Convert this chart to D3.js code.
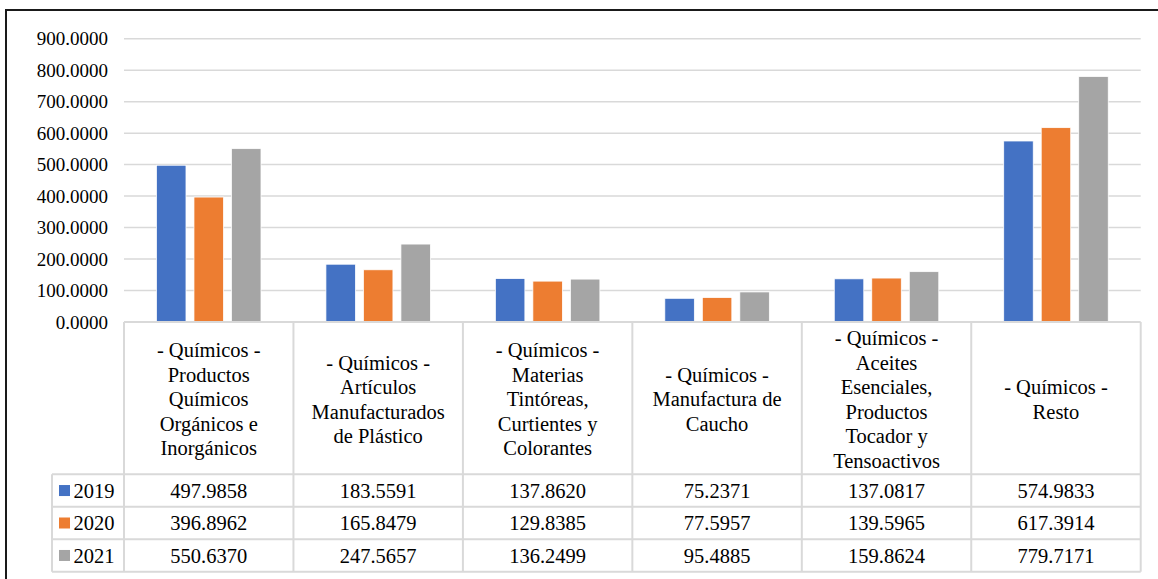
<!DOCTYPE html>
<html><head><meta charset="utf-8">
<script src="https://cdn.jsdelivr.net/npm/d3@7"></script>
<style>
html,body{margin:0;padding:0;background:#fff;}
svg{display:block;}
svg text{font-family:'Liberation Serif','Times New Roman',Times,'Tinos','DejaVu Serif',serif !important;}
</style></head>
<body><svg id="c" width="1158" height="579"></svg>
<script>
const categories = [
  "- Químicos -\nProductos\nQuímicos\nOrgánicos e\nInorgánicos",
  "- Químicos -\nArtículos\nManufacturados\nde Plástico",
  "- Químicos -\nMaterias\nTintóreas,\nCurtientes y\nColorantes",
  "- Químicos -\nManufactura de\nCaucho",
  "- Químicos -\nAceites\nEsenciales,\nProductos\nTocador y\nTensoactivos",
  "- Químicos -\nResto"
];
const years = ["2019", "2020", "2021"];
const values2019 = [497.9858, 183.5591, 137.8620, 75.2371, 137.0817, 574.9833];
const values2020 = [396.8962, 165.8479, 129.8385, 77.5957, 139.5965, 617.3914];
const values2021 = [550.6370, 247.5657, 136.2499, 95.4885, 159.8624, 779.7171];
const yTicks = [0, 100, 200, 300, 400, 500, 600, 700, 800, 900];
const colors = ["#4472C4", "#ED7D31", "#A5A5A5"];

const series = [values2019, values2020, values2021];
const svg = d3.select("#c");
const FF = "'Liberation Serif','Times New Roman',Times,'DejaVu Serif',serif";

// outer border
svg.append("line").attr("x1",6).attr("x2",1158).attr("y1",10).attr("y2",10).attr("stroke","#1a1a1a").attr("stroke-width",2);
svg.append("line").attr("x1",6).attr("x2",6).attr("y1",9).attr("y2",579).attr("stroke","#1a1a1a").attr("stroke-width",2);

const x0 = 124, x1 = 1140.7;
const y = d3.scaleLinear().domain([0, 900]).range([322, 38.7]);
const x = d3.scaleBand().domain(d3.range(categories.length)).range([x0, x1]);
const xs = d3.scaleBand().domain(years).range([-56.25, 56.25]).paddingInner(0.2133).paddingOuter(0.10665);

// gridlines
svg.append("g").selectAll("line").data(yTicks.filter(t=>t>0)).join("line")
  .attr("x1", x0).attr("x2", x1)
  .attr("y1", d=>y(d)).attr("y2", d=>y(d))
  .attr("stroke","#d9d9d9").attr("stroke-width",1.5);

// y axis labels
const yAxis = d3.axisLeft(y).tickValues(yTicks).tickFormat(d3.format(".4f")).tickSize(0).tickPadding(0);
const ga = svg.append("g").attr("transform","translate(108,0)").call(yAxis);
ga.attr("font-family", FF);
ga.select(".domain").remove();
ga.selectAll("text").attr("font-family",FF).attr("font-size",19).attr("fill","#000");

// bars
years.forEach((yr, si) => {
  svg.append("g").selectAll("rect").data(series[si]).join("rect")
    .attr("x", (d,i)=> x(i) + x.bandwidth()/2 + xs(yr))
    .attr("width", xs.bandwidth())
    .attr("y", d=>y(d))
    .attr("height", d=>y(0)-y(d))
    .attr("fill", colors[si])
    .attr("stroke","#fff").attr("stroke-width",0.75);
});

// data table
const headTop = 322, headBot = 474.3;
const rowH = (571.7 - headBot)/3;
const legL = 52;
const tc = "#d9d9d9";
const tg = svg.append("g").attr("stroke", tc).attr("stroke-width", 2);
tg.append("line").attr("x1",x0).attr("x2",x1).attr("y1",headTop).attr("y2",headTop);
for (let r=0;r<=3;r++){
  const yy = headBot + r*rowH;
  tg.append("line").attr("x1",legL).attr("x2",x1).attr("y1",yy).attr("y2",yy);
}
tg.append("line").attr("x1",legL).attr("x2",legL).attr("y1",headBot).attr("y2",571.7);
d3.range(categories.length+1).forEach(i=>{
  const xx = i<categories.length ? x(i) : x1;
  tg.append("line").attr("x1",xx).attr("x2",xx).attr("y1",headTop).attr("y2",571.7);
});

// category labels
const lh = 24.5;
categories.forEach((c,i)=>{
  const lines = c.split("\n");
  const cy = (headTop+headBot)/2 + 1;
  const t = svg.append("text").attr("text-anchor","middle").attr("font-family",FF).attr("font-size",20.5).attr("fill","#000");
  lines.forEach((ln,k)=>{
    t.append("tspan").attr("x", x(i)+x.bandwidth()/2)
      .attr("y", cy + (k - (lines.length-1)/2)*lh)
      .attr("dy","0.35em").text(ln);
  });
});

// rows
const fmt = d3.format(".4f");
years.forEach((yr, si)=>{
  const cy = headBot + (si+0.5)*rowH;
  svg.append("rect").attr("x",59).attr("y",cy-5.5).attr("width",11).attr("height",11).attr("fill",colors[si]);
  svg.append("text").attr("x",73.5).attr("y",cy).attr("dy","0.35em").attr("font-family",FF).attr("font-size",20.5).text(yr);
  svg.append("g").selectAll("text").data(series[si]).join("text")
    .attr("x",(d,i)=>x(i)+x.bandwidth()/2).attr("y",cy).attr("dy","0.35em")
    .attr("font-family",FF).attr("text-anchor","middle").attr("font-size",20.5).text(d=>fmt(d));
});
</script></body></html>
